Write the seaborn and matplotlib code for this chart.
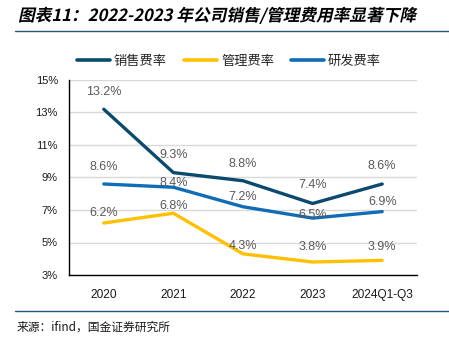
import matplotlib
matplotlib.use("Agg")
import matplotlib.pyplot as plt
import seaborn as sns
import pandas as pd
from matplotlib.lines import Line2D
from matplotlib.patheffects import AbstractPathEffect
from matplotlib.transforms import Affine2D
from matplotlib.ticker import FixedLocator, FuncFormatter

# ---- data ----
years = ["2020", "2021", "2022", "2023", "2024Q1-Q3"]
sales_rate = [13.2, 9.3, 8.8, 7.4, 8.6]      # 销售费率
admin_rate = [6.2, 6.8, 4.3, 3.8, 3.9]       # 管理费率
rd_rate = [8.6, 8.4, 7.2, 6.5, 6.9]          # 研发费率
series_names = ["销售费率", "管理费率", "研发费率"]
y_ticks = [3, 5, 7, 9, 11, 13, 15]

# ---- styling ----
colors = {"销售费率": "#0B4A6E", "管理费率": "#FFC000", "研发费率": "#0F6CB6"}
# vertical distance (pixels) of each value label above its point
label_offsets = {
    "销售费率": [17, 18, 17, 18, 18],
    "管理费率": [10, 7, 8, 15, 13],
    "研发费率": [17, 4, 10, 3, 10],
}

sns.set_style("white")
plt.rcParams["font.family"] = ["Liberation Sans", "Noto Sans CJK SC", "DejaVu Sans"]
cjk = ["Noto Sans CJK SC", "DejaVu Sans"]

df = pd.DataFrame({
    "year": years * 3,
    "rate": sales_rate + admin_rate + rd_rate,
    "series": [s for s in series_names for _ in years],
})

W, H = 449, 341
fig = plt.figure(figsize=(W / 100, H / 100), dpi=100)
ax = fig.add_axes([69 / W, 1 - 275 / H, (417 - 69) / W, (275 - 80) / H])

sns.lineplot(data=df, x="year", y="rate", hue="series", palette=colors,
             hue_order=series_names, linewidth=2.4, sort=False, legend=False,
             ax=ax, zorder=3)

ax.set_xlim(-0.5, len(years) - 0.5)
ax.set_ylim(3, 15)
ax.set_xlabel("")
ax.set_ylabel("")

# grid
ax.yaxis.set_major_locator(FixedLocator(y_ticks))
ax.yaxis.set_major_formatter(FuncFormatter(lambda v, p: f"{v:.0f}%"))
ax.grid(axis="y", color="#D9D9D9", linewidth=1.0, zorder=0)
ax.grid(axis="x", visible=False)

for side in ["top", "right"]:
    ax.spines[side].set_visible(False)
for side in ["left", "bottom"]:
    ax.spines[side].set_color("black")
    ax.spines[side].set_linewidth(1.0)

ax.tick_params(axis="y", which="major", direction="out", length=2, width=1,
               color="black", labelsize=8, labelcolor="#1A1A1A", pad=6)
ax.tick_params(axis="x", which="major", length=0, labelsize=8.6,
               labelcolor="#1A1A1A", pad=10)
ax.set_xticks(range(len(years)))
ax.set_xticklabels(years)
ax.set_xticks([i + 0.5 for i in range(len(years))], minor=True)
ax.tick_params(axis="x", which="minor", direction="in", length=3, width=1,
               color="black")

# value labels
for name, vals in zip(series_names, [sales_rate, admin_rate, rd_rate]):
    for i, v in enumerate(vals):
        ax.annotate(f"{v:.1f}%", xy=(i, v), xytext=(0, label_offsets[name][i]),
                    textcoords="offset pixels", ha="center", va="center",
                    fontsize=9, color="#595959", zorder=4)

# legend
handles = [Line2D([0], [0], color=colors[n], lw=2.6) for n in series_names]
fig.legend(handles, series_names, loc="center", ncol=3, frameon=False,
           bbox_to_anchor=(229 / W, 1 - 61 / H), handlelength=2.5,
           handletextpad=0.3, columnspacing=1.3,
           prop={"family": cjk, "size": 9.5})


class Slant(AbstractPathEffect):
    """Shear text glyphs to give an oblique look."""
    def __init__(self, shear=0.2):
        super().__init__()
        self.shear = shear

    def draw_path(self, renderer, gc, tpath, affine, rgbFace=None):
        sk = Affine2D([[1, self.shear, 0], [0, 1, 0], [0, 0, 1]])
        renderer.draw_path(gc, tpath, sk + affine, rgbFace)


fig.text(18 / W, 1 - 16 / H, "图表11：2022-2023 年公司销售/管理费用率显著下降",
         family=cjk, fontsize=12, fontweight="bold", color="black",
         ha="left", va="center", path_effects=[Slant(0.22)])

# header / footer rules
for yy in (30.5, 310.5):
    fig.add_artist(Line2D([15 / W, 1.0], [1 - yy / H, 1 - yy / H],
                          transform=fig.transFigure, color="#24567A", lw=1.0))

fig.text(17 / W, 1 - 327 / H, "来源：ifind，国金证券研究所", family=cjk,
         fontsize=8.5, color="#1A1A1A", ha="left", va="center")

fig.savefig("out.png", dpi=100)
